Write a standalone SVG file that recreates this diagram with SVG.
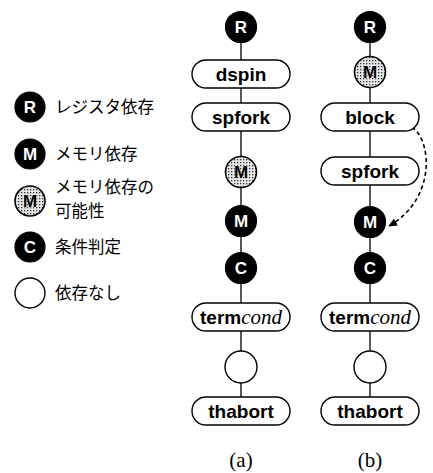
<svg xmlns="http://www.w3.org/2000/svg" width="433" height="473" viewBox="0 0 433 473">
<defs>
<style>
.blk{fill:#000;stroke:#000;stroke-width:1.2}
.gry{fill:url(#dots);stroke:#000;stroke-width:1.6}
.emp{fill:#fff;stroke:#000;stroke-width:1.4}
.pill{fill:#fff;stroke:#000;stroke-width:1.4}
.cl{font-family:"Liberation Sans",Arial,sans-serif;font-weight:bold;font-size:17px;text-anchor:middle;fill:#fff}
.clg{font-family:"Liberation Sans",Arial,sans-serif;font-weight:bold;font-size:17px;text-anchor:middle;fill:#000;stroke:#fff;stroke-width:0.6;paint-order:stroke}
.pt{font-family:"Liberation Sans",Arial,sans-serif;font-weight:bold;font-size:19px;text-anchor:middle;fill:#000}
.it{font-family:"Liberation Serif","Times New Roman",serif;font-style:italic;font-weight:normal;font-size:21px}
.lg{font-family:"Noto Sans CJK JP","Noto Sans CJK SC",sans-serif;font-size:16.5px;fill:#000}
.cap{font-family:"Liberation Serif","Times New Roman",serif;font-size:21px;text-anchor:middle;fill:#000}
.ln{stroke:#000;stroke-width:1.3;fill:none}
.dash{stroke:#000;stroke-width:1.6;fill:none;stroke-dasharray:4 3}
</style>
<pattern id="dots" width="3" height="3" patternUnits="userSpaceOnUse">
<rect width="3" height="3" fill="#e6e6e6"/>
<rect width="1.3" height="1.3" fill="#333"/>
</pattern>
<marker id="ah" markerWidth="10" markerHeight="10" refX="8" refY="5" orient="auto" markerUnits="userSpaceOnUse">
<path d="M0,1 L9,5 L0,9 Z" fill="#000"/>
</marker>
</defs>

<g id="legend">
<g id="leg-r"><circle class="blk" cx="30" cy="107" r="15"/><text class="cl" x="30" y="113">R</text><text class="lg" x="55" y="113">レジスタ依存</text></g>
<g id="leg-m"><circle class="blk" cx="30" cy="154" r="15"/><text class="cl" x="30" y="160">M</text><text class="lg" x="55" y="160">メモリ依存</text></g>
<g id="leg-gm"><circle class="gry" cx="30" cy="201" r="15"/><text class="clg" x="30" y="207">M</text><text class="lg" x="55" y="193">メモリ依存の</text><text class="lg" x="55" y="217">可能性</text></g>
<g id="leg-c"><circle class="blk" cx="30" cy="247" r="15"/><text class="cl" x="30" y="253">C</text><text class="lg" x="55" y="253">条件判定</text></g>
<g id="leg-n"><circle class="emp" cx="30" cy="293" r="15"/><text class="lg" x="55" y="299">依存なし</text></g>
</g>

<g id="connectors">
<line class="ln" x1="241" y1="42" x2="241" y2="60"/>
<line class="ln" x1="241" y1="88" x2="241" y2="103"/>
<line class="ln" x1="241" y1="131" x2="241" y2="156"/>
<line class="ln" x1="241" y1="188" x2="241" y2="205"/>
<line class="ln" x1="241" y1="237" x2="241" y2="252"/>
<line class="ln" x1="241" y1="284" x2="241" y2="303"/>
<line class="ln" x1="241" y1="331" x2="241" y2="351"/>
<line class="ln" x1="241" y1="383" x2="241" y2="397"/>
<line class="ln" x1="370" y1="42" x2="370" y2="56"/>
<line class="ln" x1="370" y1="88" x2="370" y2="103"/>
<line class="ln" x1="370" y1="131" x2="370" y2="157"/>
<line class="ln" x1="370" y1="185" x2="370" y2="206"/>
<line class="ln" x1="370" y1="238" x2="370" y2="252"/>
<line class="ln" x1="370" y1="284" x2="370" y2="303"/>
<line class="ln" x1="370" y1="331" x2="370" y2="351"/>
<line class="ln" x1="370" y1="383" x2="370" y2="397"/>
<path class="dash" d="M412,127 C433,142 435,200 389,226" marker-end="url(#ah)"/>
</g>

<g id="a-r"><circle class="blk" cx="241" cy="27" r="15.5"/><text class="cl" x="241" y="33">R</text></g>
<g id="a-dspin"><rect class="pill" x="192" y="60" width="98" height="28" rx="14"/><text class="pt" x="241" y="81">dspin</text></g>
<g id="a-spfork"><rect class="pill" x="192" y="103" width="98" height="28" rx="14"/><text class="pt" x="241" y="124">spfork</text></g>
<g id="a-gm"><circle class="gry" cx="241" cy="172" r="15.5"/><text class="clg" x="241" y="178">M</text></g>
<g id="a-m"><circle class="blk" cx="241" cy="221" r="15.5"/><text class="cl" x="241" y="227">M</text></g>
<g id="a-c"><circle class="blk" cx="241" cy="268" r="15.5"/><text class="cl" x="241" y="274">C</text></g>
<g id="a-termcond"><rect class="pill" x="192" y="303" width="98" height="28" rx="14"/><text class="pt" x="241" y="324">term<tspan class="it">cond</tspan></text></g>
<g id="a-none"><circle class="emp" cx="241" cy="367" r="16"/></g>
<g id="a-thabort"><rect class="pill" x="192" y="397" width="98" height="28" rx="14"/><text class="pt" x="241" y="418">thabort</text></g>
<text class="cap" x="241" y="467">(a)</text>

<g id="b-r"><circle class="blk" cx="370" cy="27" r="15.5"/><text class="cl" x="370" y="33">R</text></g>
<g id="b-gm"><circle class="gry" cx="370" cy="72" r="15.5"/><text class="clg" x="370" y="78">M</text></g>
<g id="b-block"><rect class="pill" x="321" y="103" width="98" height="28" rx="14"/><text class="pt" x="370" y="124">block</text></g>
<g id="b-spfork"><rect class="pill" x="321" y="157" width="98" height="28" rx="14"/><text class="pt" x="370" y="178">spfork</text></g>
<g id="b-m"><circle class="blk" cx="370" cy="222" r="15.5"/><text class="cl" x="370" y="228">M</text></g>
<g id="b-c"><circle class="blk" cx="370" cy="268" r="15.5"/><text class="cl" x="370" y="274">C</text></g>
<g id="b-termcond"><rect class="pill" x="321" y="303" width="98" height="28" rx="14"/><text class="pt" x="370" y="324">term<tspan class="it">cond</tspan></text></g>
<g id="b-none"><circle class="emp" cx="370" cy="367" r="16"/></g>
<g id="b-thabort"><rect class="pill" x="321" y="397" width="98" height="28" rx="14"/><text class="pt" x="370" y="418">thabort</text></g>
<text class="cap" x="370" y="467">(b)</text>
</svg>
